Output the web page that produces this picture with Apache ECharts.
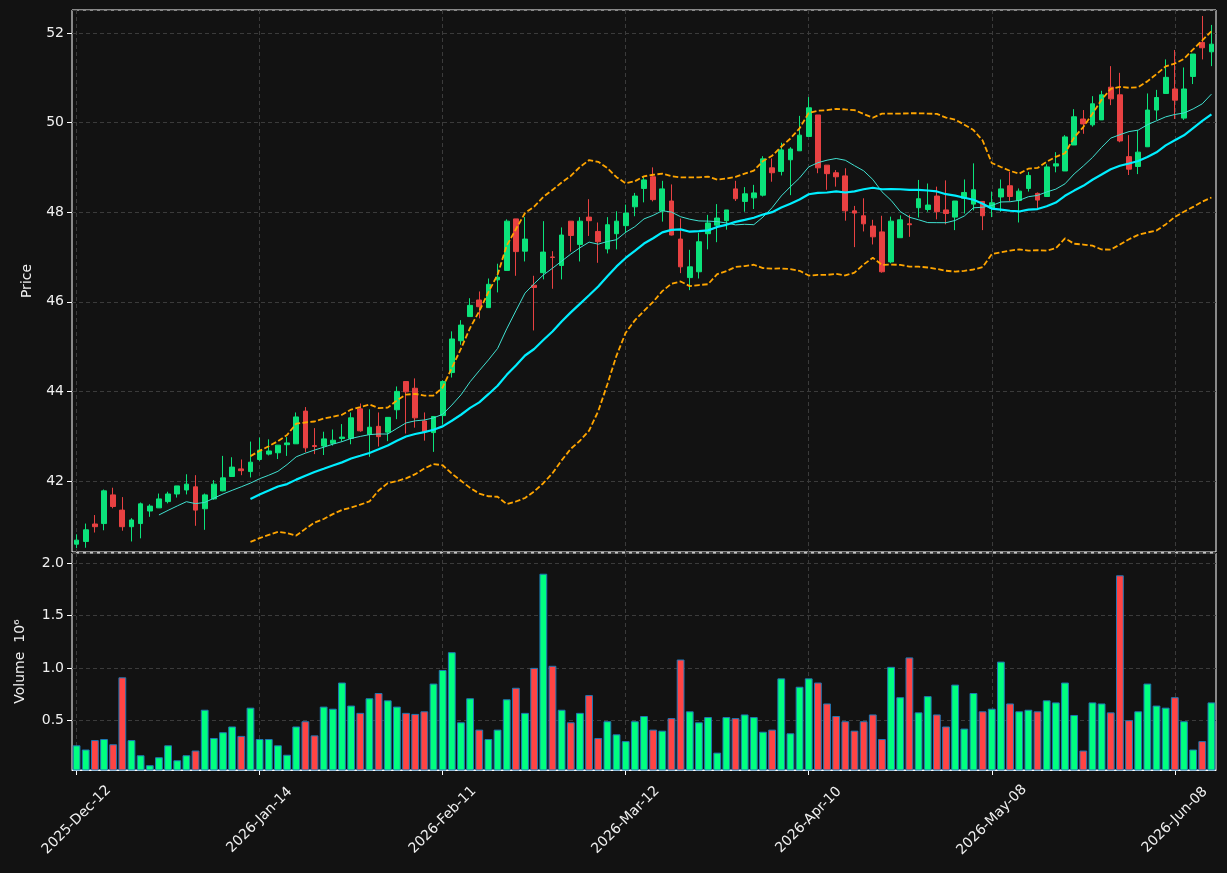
<!DOCTYPE html>
<html>
<head>
<meta charset="utf-8">
<title>Price and volume</title>
<script src="https://cdn.jsdelivr.net/npm/echarts@6.0.0/dist/echarts.min.js"></script>
<style>
  html, body { margin: 0; padding: 0; background: #121212; }
  #chart { width: 1227px; height: 873px; }
</style>
</head>
<body>
<div id="chart"></div>
<script>
// daily OHLC
const open = [
  40.59, 40.65, 41.04, 41.05, 41.69, 41.35, 40.98, 41.05, 41.33, 41.40,
  41.54, 41.71, 41.80, 41.87, 41.38, 41.60, 41.78, 42.10, 42.27, 42.21,
  42.48, 42.60, 42.63, 42.81, 42.83, 43.56, 42.79, 42.78, 42.84, 42.95,
  42.95, 43.61, 43.04, 43.22, 43.09, 43.59, 44.22, 44.07, 43.34, 43.08,
  43.46, 44.42, 45.13, 45.67, 46.04, 45.87, 46.49, 46.70, 47.85, 47.13,
  46.37, 46.65, 47.00, 46.81, 47.80, 47.28, 47.89, 47.57, 47.18, 47.52,
  47.70, 48.12, 48.53, 48.79, 48.03, 48.25, 47.40, 46.54, 46.67, 47.52,
  47.71, 47.81, 48.52, 48.24, 48.32, 48.38, 48.99, 48.91, 49.17, 49.37,
  49.69, 50.17, 49.05, 48.88, 48.81, 48.03, 47.92, 47.69, 47.56, 46.89,
  47.43, 47.74, 48.10, 48.06, 48.36, 48.05, 47.89, 48.31, 48.18, 48.24,
  48.09, 48.34, 48.59, 48.26, 48.53, 48.42, 48.35, 49.03, 48.92, 49.50,
  50.08, 49.95, 50.06, 50.79, 50.62, 49.24, 49.02, 49.46, 50.28, 50.65,
  50.75, 50.10, 51.03, 51.79, 51.58
];
const high = [
  40.81, 41.05, 41.24, 41.81, 41.85, 41.64, 41.17, 41.52, 41.48, 41.72,
  41.76, 41.89, 42.15, 42.13, 41.72, 42.02, 42.56, 42.53, 42.48, 42.88,
  42.97, 42.93, 42.80, 42.98, 43.53, 43.65, 43.18, 43.10, 43.15, 43.27,
  43.53, 43.73, 43.60, 43.53, 43.42, 44.11, 44.22, 44.29, 43.53, 43.44,
  44.25, 45.34, 45.59, 46.08, 46.23, 46.52, 46.85, 47.84, 47.85, 47.89,
  46.58, 47.80, 47.13, 47.66, 47.80, 47.89, 48.29, 47.77, 47.89, 48.02,
  48.17, 48.43, 48.79, 49.00, 48.70, 48.62, 47.86, 47.16, 47.54, 47.94,
  48.18, 48.05, 48.70, 48.56, 48.61, 49.25, 49.20, 49.55, 49.45, 50.15,
  50.57, 50.17, 49.05, 48.94, 48.98, 48.14, 48.31, 47.83, 47.92, 47.90,
  47.93, 47.94, 48.72, 48.64, 48.57, 48.71, 48.25, 48.73, 49.09, 48.24,
  48.46, 48.73, 48.90, 48.53, 48.90, 48.44, 49.07, 49.34, 49.72, 50.30,
  50.28, 50.59, 50.71, 51.26, 51.11, 49.72, 49.83, 50.65, 50.73, 51.41,
  51.62, 51.23, 51.53, 52.38, 52.18
];
const low = [
  40.50, 40.51, 40.85, 40.90, 41.39, 40.89, 40.65, 40.72, 41.20, 41.40,
  41.50, 41.63, 41.70, 41.00, 40.91, 41.58, 41.77, 42.10, 42.13, 42.08,
  42.45, 42.57, 42.49, 42.56, 42.83, 42.64, 42.60, 42.58, 42.79, 42.88,
  42.82, 43.10, 42.54, 42.77, 42.89, 43.38, 43.06, 43.19, 42.90, 42.65,
  43.26, 44.31, 45.04, 45.67, 45.63, 45.87, 46.21, 46.70, 46.58, 46.90,
  45.36, 46.50, 46.29, 46.50, 47.12, 46.90, 47.47, 46.87, 47.08, 47.17,
  47.53, 47.91, 48.22, 48.24, 47.79, 47.48, 46.64, 46.26, 46.52, 47.17,
  47.33, 47.61, 48.25, 48.01, 48.07, 48.35, 48.68, 48.82, 48.38, 49.37,
  49.69, 48.87, 48.50, 48.57, 47.81, 47.22, 47.57, 47.28, 46.65, 46.86,
  47.43, 47.45, 47.88, 48.01, 47.84, 47.73, 47.60, 47.97, 48.04, 47.60,
  47.89, 48.01, 48.25, 47.77, 48.46, 48.09, 48.35, 48.89, 48.92, 49.50,
  49.75, 49.91, 50.06, 50.39, 49.56, 48.83, 48.85, 49.46, 50.06, 50.65,
  50.08, 50.06, 50.86, 51.41, 51.26
];
const close = [
  40.68, 40.91, 40.98, 41.78, 41.43, 40.98, 41.13, 41.49, 41.44, 41.60,
  41.71, 41.89, 41.93, 41.35, 41.69, 41.93, 42.07, 42.31, 42.23, 42.42,
  42.69, 42.67, 42.80, 42.85, 43.43, 42.74, 42.77, 42.94, 42.91, 42.98,
  43.41, 43.12, 43.20, 42.99, 43.42, 44.00, 43.99, 43.41, 43.10, 43.44,
  44.22, 45.17, 45.48, 45.92, 45.89, 46.39, 46.55, 47.80, 47.12, 47.40,
  46.32, 47.11, 46.99, 47.49, 47.48, 47.80, 47.81, 47.34, 47.72, 47.80,
  47.98, 48.36, 48.72, 48.28, 48.52, 47.49, 46.78, 46.78, 47.34, 47.76,
  47.87, 48.05, 48.30, 48.41, 48.43, 49.19, 48.88, 49.39, 49.41, 49.72,
  50.33, 48.99, 48.86, 48.79, 48.03, 47.98, 47.74, 47.45, 46.67, 47.80,
  47.83, 47.72, 48.30, 48.16, 48.01, 47.97, 48.25, 48.44, 48.50, 47.92,
  48.21, 48.52, 48.35, 48.47, 48.82, 48.27, 49.01, 49.08, 49.68, 50.13,
  49.97, 50.42, 50.62, 50.53, 49.59, 48.96, 49.34, 50.28, 50.56, 51.01,
  50.50, 50.75, 51.53, 51.67, 51.75
];
// volume in units of 10^6
const volume = [
  0.26, 0.22, 0.31, 0.32, 0.27, 0.91, 0.31, 0.165, 0.07, 0.146,
  0.26, 0.117, 0.165, 0.21, 0.60, 0.33, 0.385, 0.44, 0.35, 0.62,
  0.32, 0.32, 0.26, 0.17, 0.44, 0.49, 0.355, 0.63, 0.61, 0.86,
  0.64, 0.57, 0.71, 0.76, 0.69, 0.63, 0.57, 0.56, 0.585, 0.85,
  0.98, 1.15, 0.48, 0.71, 0.41, 0.32, 0.41, 0.70, 0.81, 0.57,
  1.00, 1.90, 1.02, 0.60, 0.48, 0.57, 0.74, 0.33, 0.49, 0.365,
  0.30, 0.49, 0.54, 0.41, 0.40, 0.52, 1.08, 0.585, 0.48, 0.53,
  0.19, 0.53, 0.52, 0.555, 0.53, 0.39, 0.41, 0.90, 0.375, 0.82,
  0.90, 0.86, 0.66, 0.54, 0.49, 0.40, 0.49, 0.555, 0.32, 1.01,
  0.72, 1.10, 0.575, 0.73, 0.555, 0.44, 0.84, 0.42, 0.76, 0.585,
  0.61, 1.06, 0.66, 0.585, 0.60, 0.585, 0.69, 0.67, 0.86, 0.55,
  0.21, 0.67, 0.66, 0.575, 1.885, 0.50, 0.585, 0.85, 0.64, 0.62,
  0.72, 0.49, 0.22, 0.30, 0.67
];

// trading calendar: weekdays from the first session, minus market holidays
const firstDay = '2025-12-12';
const holidays = ['2025-12-24', '2025-12-25', '2026-01-01', '2026-02-16', '2026-04-03', '2026-05-25'];
const tickEvery = 20; // a date label every 20 sessions
const months = ['Jan', 'Feb', 'Mar', 'Apr', 'May', 'Jun', 'Jul', 'Aug', 'Sep', 'Oct', 'Nov', 'Dec'];

function tradingDays(start, count, skip) {
  const out = [];
  const d = new Date(start + 'T00:00:00Z');
  while (out.length < count) {
    const iso = d.toISOString().slice(0, 10);
    const wd = d.getUTCDay();
    if (wd !== 0 && wd !== 6 && skip.indexOf(iso) < 0) {
      out.push(d.getUTCFullYear() + '-' + months[d.getUTCMonth()] + '-' + iso.slice(8, 10));
    }
    d.setUTCDate(d.getUTCDate() + 1);
  }
  return out;
}
const dates = tradingDays(firstDay, close.length, holidays);

// moving averages / bollinger bands from the closes
function rollingMean(arr, n) {
  return arr.map((_, i) => {
    if (i < n - 1) return '-';
    let s = 0;
    for (let j = i - n + 1; j <= i; j++) s += arr[j];
    return s / n;
  });
}
function bands(arr, n, k) {
  const mid = rollingMean(arr, n);
  const upper = [], lower = [];
  arr.forEach((_, i) => {
    if (mid[i] === '-') { upper.push('-'); lower.push('-'); return; }
    let ss = 0;
    for (let j = i - n + 1; j <= i; j++) ss += (arr[j] - mid[i]) ** 2;
    const sd = Math.sqrt(ss / n);
    upper.push(mid[i] + k * sd);
    lower.push(mid[i] - k * sd);
  });
  return { upper, lower };
}
const ma10 = rollingMean(close, 10);
const ma20 = rollingMean(close, 20);
const bb = bands(close, 20, 2);

const upColor = '#0be37b', downColor = '#e84142';
const volUp = '#00ff80', volDown = '#ff4444';
const textColor = '#f0f0f0';
const frameColor = '#ffffff';
const gridStyle = { color: '#3b3b3b', type: [4, 3], width: 1 };
const everyTick = (idx) => idx % tickEvery === 0;

const candles = open.map((o, i) => [o, close[i], low[i], high[i]]);
const volBars = volume.map((v, i) => ({
  value: v,
  itemStyle: { color: close[i] >= open[i] ? volUp : volDown }
}));

const chart = echarts.init(document.getElementById('chart'));
chart.setOption({
  backgroundColor: '#121212',
  animation: false,
  textStyle: { fontFamily: 'DejaVu Sans' },
  grid: [
    { left: 72, right: 11, top: 10, height: 542, show: true, borderColor: frameColor, borderWidth: 1 },
    { left: 72, right: 11, top: 553, height: 217, show: true, borderColor: frameColor, borderWidth: 1 }
  ],
  xAxis: [
    {
      type: 'category', gridIndex: 0, data: dates,
      axisLine: { show: false }, axisTick: { show: false }, axisLabel: { show: false },
      splitLine: { show: true, interval: everyTick, alignWithLabel: true, lineStyle: gridStyle }
    },
    {
      type: 'category', gridIndex: 1, data: dates,
      axisLine: { show: true, lineStyle: { color: frameColor } },
      axisTick: { show: true, interval: everyTick, alignWithLabel: true, length: 5, lineStyle: { color: frameColor } },
      axisLabel: {
        interval: everyTick, rotate: 45, align: 'center', verticalAlign: 'middle',
        margin: 50, color: textColor, fontSize: 14
      },
      splitLine: { show: true, interval: everyTick, alignWithLabel: true, lineStyle: gridStyle }
    }
  ],
  yAxis: [
    {
      type: 'value', gridIndex: 0, min: 40.415, max: 52.513, splitNumber: 6,
      name: 'Price', nameLocation: 'middle', nameGap: 38,
      nameTextStyle: { color: textColor, fontSize: 14 },
      axisLine: { show: false },
      axisTick: { show: true, length: 5, lineStyle: { color: frameColor } },
      axisLabel: { color: textColor, fontSize: 14, margin: 8, showMinLabel: false, showMaxLabel: false },
      splitLine: { show: true, lineStyle: gridStyle }
    },
    {
      type: 'value', gridIndex: 1, min: 0.024, max: 2.098, splitNumber: 4,
      name: 'Volume  10⁶', nameLocation: 'middle', nameGap: 45,
      nameTextStyle: { color: textColor, fontSize: 14 },
      axisLine: { show: false },
      axisTick: { show: true, length: 5, lineStyle: { color: frameColor } },
      axisLabel: {
        color: textColor, fontSize: 14, margin: 8, showMinLabel: false, showMaxLabel: false,
        formatter: (v) => v.toFixed(1)
      },
      splitLine: { show: true, lineStyle: gridStyle }
    }
  ],
  series: [
    {
      type: 'candlestick', xAxisIndex: 0, yAxisIndex: 0, data: candles, barWidth: 5.2,
      itemStyle: { color: upColor, color0: downColor, borderColor: upColor, borderColor0: downColor, borderWidth: 1 }
    },
    {
      type: 'line', name: 'MA10', xAxisIndex: 0, yAxisIndex: 0, data: ma10,
      symbol: 'none', lineStyle: { color: '#40e0d0', width: 1 }
    },
    {
      type: 'line', name: 'MA20', xAxisIndex: 0, yAxisIndex: 0, data: ma20,
      symbol: 'none', lineStyle: { color: '#00eeff', width: 2.2 }
    },
    {
      type: 'line', name: 'Upper', xAxisIndex: 0, yAxisIndex: 0, data: bb.upper,
      symbol: 'none', lineStyle: { color: '#ffa500', width: 1.8, type: [5.5, 2.4] }
    },
    {
      type: 'line', name: 'Lower', xAxisIndex: 0, yAxisIndex: 0, data: bb.lower,
      symbol: 'none', lineStyle: { color: '#ffa500', width: 1.8, type: [5.5, 2.4] }
    },
    {
      type: 'bar', name: 'Volume', xAxisIndex: 1, yAxisIndex: 1, data: volBars, barWidth: 7.8,
      itemStyle: { borderColor: '#1f77b4', borderWidth: 1 }
    }
  ]
});
</script>
</body>
</html>
